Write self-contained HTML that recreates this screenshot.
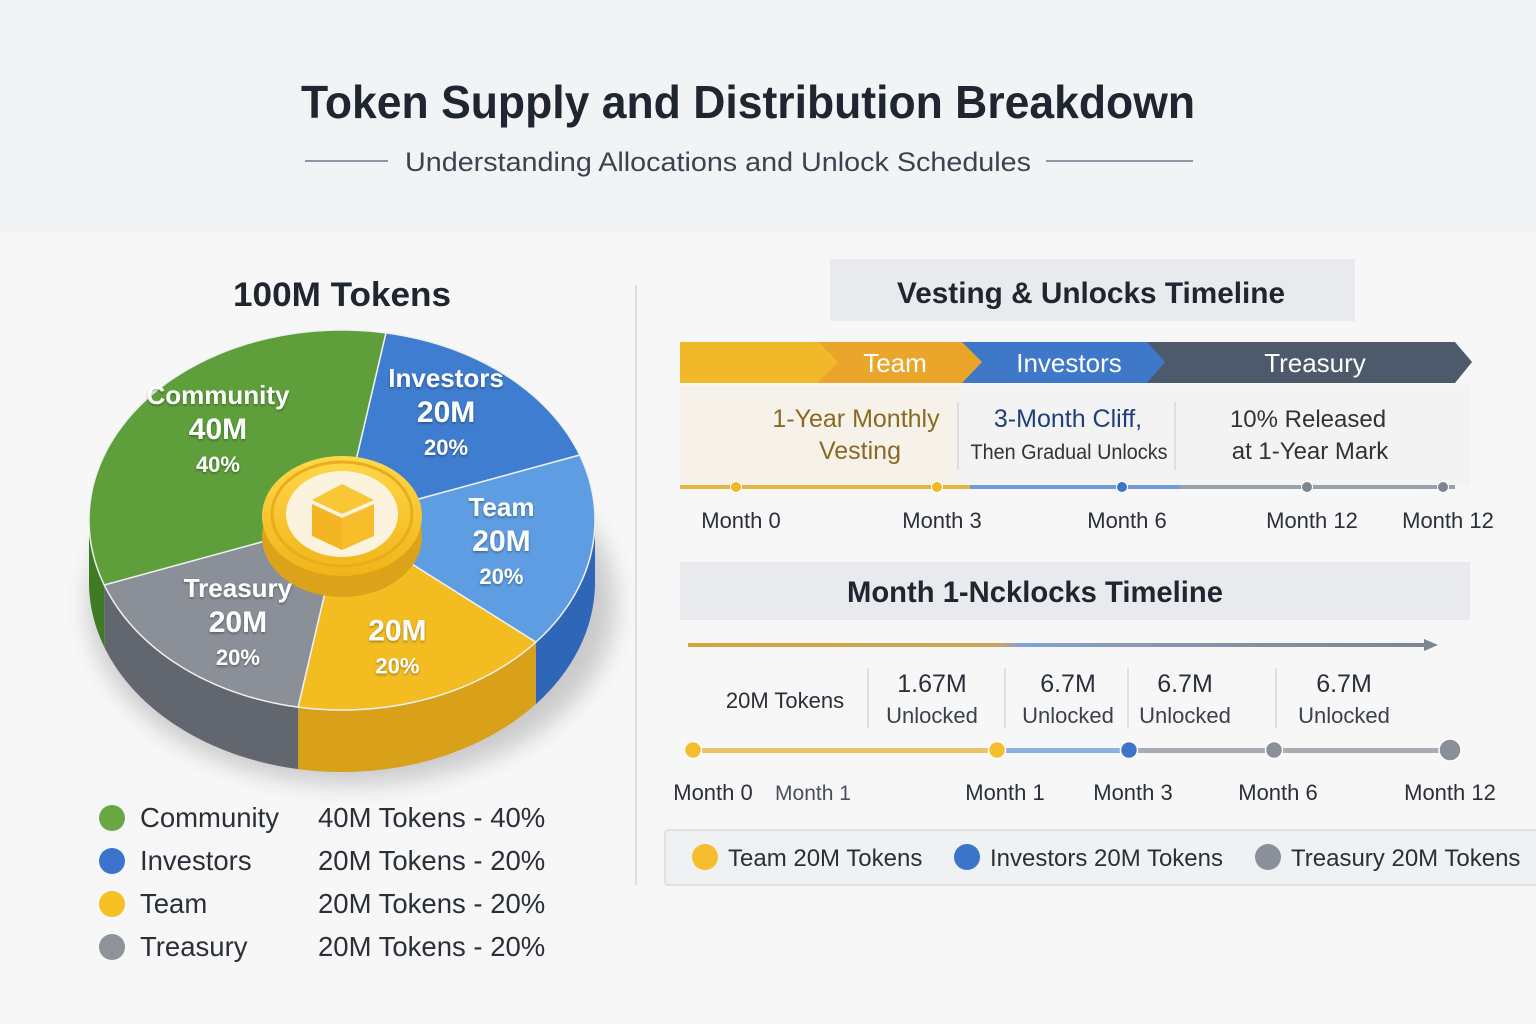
<!DOCTYPE html>
<html><head><meta charset="utf-8"><style>
html,body{margin:0;padding:0;background:#f2f3f5;}
svg{display:block;font-family:"Liberation Sans",sans-serif;}
</style></head><body>
<svg id="chart" width="1536" height="1024" viewBox="0 0 1536 1024">
<defs>
<linearGradient id="bandGrad" x1="0" x2="1"><stop offset="0" stop-color="#d5a43a"/><stop offset="0.42" stop-color="#c9a65c"/><stop offset="0.45" stop-color="#7fa3d6"/><stop offset="0.6" stop-color="#8a99ae"/><stop offset="1" stop-color="#7d8592"/></linearGradient>
<linearGradient id="coinGrad" x1="0" y1="0" x2="0" y2="1"><stop offset="0" stop-color="#ffd84a"/><stop offset="1" stop-color="#f0b418"/></linearGradient>
<filter id="tsh"><feDropShadow dx="0" dy="1.5" stdDeviation="1.2" flood-color="#000" flood-opacity="0.35"/></filter>
<filter id="blur"><feGaussianBlur stdDeviation="12"/></filter>
</defs>
<rect width="1536" height="1024" fill="#f2f3f5"/>
<rect x="0" y="232" width="1536" height="792" fill="#f7f7f8"/>

<text x="748" y="118" text-anchor="middle" font-size="46" font-weight="bold" fill="#1f2630" textLength="894" lengthAdjust="spacingAndGlyphs">Token Supply and Distribution Breakdown</text>
<line x1="305" y1="161" x2="388" y2="161" stroke="#8d96a3" stroke-width="2"/>
<line x1="1046" y1="161" x2="1193" y2="161" stroke="#8d96a3" stroke-width="2"/>
<text x="718" y="171" text-anchor="middle" font-size="27" fill="#3a4350" textLength="626" lengthAdjust="spacingAndGlyphs">Understanding Allocations and Unlock Schedules</text>

<text x="342" y="306" text-anchor="middle" font-size="34" font-weight="bold" fill="#1f2630" textLength="218" lengthAdjust="spacingAndGlyphs">100M Tokens</text>

<g id="pie"></g>
<g id="legendL"></g>

<line x1="636" y1="285" x2="636" y2="885" stroke="#dcdfe3" stroke-width="2"/>

<rect x="830" y="259" width="525" height="62" fill="#e8eaee"/>
<text x="1091" y="303" text-anchor="middle" font-size="30" font-weight="bold" fill="#1f2630" textLength="388" lengthAdjust="spacingAndGlyphs">Vesting &amp; Unlocks Timeline</text>
<g>
<polygon points="680,342 822,342 840,362 822,383 680,383" fill="#f1b92a"/>
<polygon points="818,342 965,342 985,362 965,383 818,383 838,362" fill="#eaa62a"/>
<polygon points="962,342 1150,342 1168,362 1150,383 962,383 982,362" fill="#3f78c9"/>
<polygon points="1147,342 1455,342 1472,362 1455,383 1147,383 1165,362" fill="#4c5a6c"/>
<text x="895" y="372" text-anchor="middle" font-size="26" fill="#fff">Team</text>
<text x="1069" y="372" text-anchor="middle" font-size="26" fill="#fff">Investors</text>
<text x="1315" y="372" text-anchor="middle" font-size="26" fill="#fff">Treasury</text>
</g>
<rect x="680" y="385" width="790" height="100" fill="#f3f3f3"/>
<rect x="680" y="385" width="278" height="100" fill="#f6f2ea"/>
<line x1="958" y1="402" x2="958" y2="470" stroke="#d6d8dc" stroke-width="1.5"/>
<line x1="1175" y1="402" x2="1175" y2="470" stroke="#d6d8dc" stroke-width="1.5"/>
<text x="856" y="427" text-anchor="middle" font-size="25" fill="#8a6a22">1-Year Monthly</text>
<text x="860" y="459" text-anchor="middle" font-size="25" fill="#8a6a22">Vesting</text>
<text x="1068" y="427" text-anchor="middle" font-size="25" fill="#1e3f7a">3-Month Cliff,</text>
<text x="1069" y="459" text-anchor="middle" font-size="21" fill="#333" textLength="197" lengthAdjust="spacingAndGlyphs">Then Gradual Unlocks</text>
<text x="1308" y="427" text-anchor="middle" font-size="24" fill="#333">10% Released</text>
<text x="1310" y="459" text-anchor="middle" font-size="24" fill="#333">at 1-Year Mark</text>
<g id="tl1"></g>

<rect x="680" y="562" width="790" height="58" fill="#e8eaee"/>
<text x="1035" y="602" text-anchor="middle" font-size="30" font-weight="bold" fill="#1f2630" textLength="376" lengthAdjust="spacingAndGlyphs">Month 1-Ncklocks Timeline</text>
<rect x="688" y="643" width="740" height="4" fill="url(#bandGrad)"/>
<polygon points="1424,639 1438,645 1424,651" fill="#7d8592"/>
<g id="unl"></g>
<g id="tl2"></g>

<rect x="665" y="830" width="880" height="55" fill="#f0f1f3" stroke="#d8dbe0" stroke-width="1.5" rx="3"/>
<g id="legendR"></g>
</svg>
<script>
const NS="http://www.w3.org/2000/svg";
const pieNames=["Investors","Team","","Treasury","Community"];
const pieValues=[20,20,20,20,40];
const piePercents=["20%","20%","20%","20%","40%"];
const pieAmounts=["20M","20M","20M","20M","40M"];
const pieTop=["#3f7dd0","#5f9de2","#f3bd22","#8b9098","#5e9f3c"];
const pieSide=["#2456a8","#2f66b8","#d9a01a","#62676f","#3f7a25"];
const legNames=["Community","Investors","Team","Treasury"];
const legValues=["40M Tokens - 40%","20M Tokens - 20%","20M Tokens - 20%","20M Tokens - 20%"];
const legColors=["#6aa843","#3c74cc","#f6c022","#8e9299"];
const tl1Labels=["Month 0","Month 3","Month 6","Month 12","Month 12"];
const tl1Months=[0,3,6,12,15];
const tl1Colors=["#f0b72b","#f0b72b","#3b74c8","#7d8590","#7d8590"];
const tl2Labels=["Month 0","Month 1","Month 3","Month 6","Month 12"];
const tl2Months=[0,1,3,6,12];
const tl2Colors=["#f4be2e","#f4be2e","#3b74c8","#8b9098","#8b9098"];
const unlockValues=["1.67M","6.7M","6.7M","6.7M"];
const legR=["Team 20M Tokens","Investors 20M Tokens","Treasury 20M Tokens"];
const legRColors=["#f4be2e","#3b74c8","#8b9098"];

function el(tag,attrs,parent,txt){const e=document.createElementNS(NS,tag);for(const k in attrs)e.setAttribute(k,attrs[k]);if(txt!==undefined)e.textContent=txt;parent.appendChild(e);return e;}
function piece(dom,rng){return v=>{for(let i=0;i<dom.length-1;i++){if(v<=dom[i+1]||i===dom.length-2){return rng[i]+(v-dom[i])/(dom[i+1]-dom[i])*(rng[i+1]-rng[i]);}}};}

const pie=document.getElementById('pie');
const cx=342,cy=520,rx=253,ry=190,H=62,startAngle=80;
const P=(a,dy=0)=>[cx+rx*Math.cos(a*Math.PI/180),cy-ry*Math.sin(a*Math.PI/180)+dy];
const total=pieValues.reduce((a,b)=>a+b,0);
let sh=el('ellipse',{cx:cx+10,cy:cy+H+22,rx:rx+10,ry:ry-10,fill:'#000',opacity:0.18,filter:'url(#blur)'},pie);

let angles=[];let a=startAngle;
pieValues.forEach(v=>{const a2=a-v/total*360;angles.push([a,a2]);a=a2;});
angles.forEach(([a1,a2],i)=>{
  let s=Math.min(a1,0),e=Math.max(a2,-180);
  if(s<=e)return;
  let pts=[];for(let t=s;t>=e;t-=1)pts.push(P(t));pts.push(P(e));
  let back=[];for(let t=e;t<=s;t+=1)back.push(P(t,H));back.push(P(s,H));
  const p=el('polygon',{points:pts.concat(back).map(q=>q.join(',')).join(' '),fill:pieSide[i]},pie);
  
});
angles.forEach(([a1,a2],i)=>{
  let pts=[[cx,cy]];for(let t=a1;t>=a2;t-=1)pts.push(P(t));pts.push(P(a2));
  const p=el('polygon',{points:pts.map(q=>q.join(',')).join(' '),fill:pieTop[i],stroke:'#eef0f2','stroke-width':1.5},pie);
  
});
[['ellipse',{cx:342,cy:537,rx:80,ry:60,fill:'#dca21a'}],['ellipse',{cx:342,cy:516,rx:80,ry:60,fill:'url(#coinGrad)'}],['ellipse',{cx:342,cy:514,rx:70,ry:52,fill:'none',stroke:'#e9ac1c','stroke-width':3}],['ellipse',{cx:342,cy:514,rx:56,ry:43,fill:'#fbf3de'}]].forEach(([t,at],k)=>{const e=el(t,at,pie);});
[['polygon',{points:'312,500 342,484 374,500 342,514',fill:'#f9c735'}],['polygon',{points:'312,504 342,518 342,550 312,536',fill:'#f3b524'}],['polygon',{points:'342,518 374,504 374,536 342,550',fill:'#f7bd2a'}]].forEach(([t,at],k)=>{const e=el(t,at,pie);});
angles.forEach(([a1,a2],i)=>{
  const m=(a1+a2)/2;const [x,y]=P(m);const lx=cx+(x-cx)*0.64,ly=cy+(y-cy)*0.72;
  const g=el('g',{filter:'url(#tsh)','font-weight':'bold',fill:'#fff','text-anchor':'middle'},pie);
  
  let yy=pieNames[i]?ly-28:ly-8;
  if(pieNames[i]){const t=el('text',{x:lx,y:yy,'font-size':26},g,pieNames[i]);yy+=35;}
  const t2=el('text',{x:lx,y:yy,'font-size':30},g,pieAmounts[i]);
  const t3=el('text',{x:lx,y:yy+33,'font-size':22},g,piePercents[i]);
});
const lg=document.getElementById('legendL');
legNames.forEach((n,i)=>{const y=818+i*43;
  const c=el('circle',{cx:112,cy:y,r:13,fill:legColors[i]},lg);
  const t=el('text',{x:140,y:y+9,'font-size':27.5,fill:'#2a2f38'},lg,n);
  const v=el('text',{x:318,y:y+9,'font-size':27.5,fill:'#2a2f38'},lg,legValues[i]);
});
const t1=document.getElementById('tl1');
const x1=piece([0,3,6,12,15],[736,937,1122,1307,1443]);
[[680,970,'#e6b445'],[970,1180,'#6f9bd6'],[1180,1455,'#9aa0a8']].forEach((s,k)=>{const r=el('rect',{x:s[0],y:485,width:s[1]-s[0],height:4,fill:s[2]},t1);});
tl1Months.forEach((m,i)=>{const x=x1(m);
  const c=el('circle',{cx:x,cy:487,r:5.5,fill:tl1Colors[i],stroke:'#fff','stroke-width':1},t1);
  const t=el('text',{x:x+5,y:528,'font-size':22,fill:'#2a2f38','text-anchor':'middle'},t1,tl1Labels[i]);
});
const un=document.getElementById('unl');
const t0=el('text',{x:785,y:708,'font-size':22,fill:'#2a2f38','text-anchor':'middle'},un,'20M Tokens');
const ucx=[932,1068,1185,1344],usep=[868,1005,1128,1276];
unlockValues.forEach((v,i)=>{
  const l=el('line',{x1:usep[i],y1:668,x2:usep[i],y2:728,stroke:'#d6d8dc','stroke-width':1.5},un);
  const a=el('text',{x:ucx[i],y:692,'font-size':25,fill:'#2a2f38','text-anchor':'middle'},un,v);
  const b=el('text',{x:ucx[i],y:723,'font-size':22,fill:'#3a414b','text-anchor':'middle'},un,'Unlocked');
});
const t2=document.getElementById('tl2');
const x2=piece([0,1,3,6,12],[693,997,1129,1274,1450]);
[[693,990,'#e9c26a'],[1005,1120,'#8fb0df'],[1135,1445,'#a9adb3']].forEach((s,k)=>{const r=el('rect',{x:s[0],y:748,width:s[1]-s[0],height:5,fill:s[2]},t2);});
tl2Months.forEach((m,i)=>{const x=x2(m);
  const c=el('circle',{cx:x,cy:750,r:i===4?11:8.5,fill:tl2Colors[i],stroke:'#fff','stroke-width':1.5},t2);
  const t=el('text',{x:i===0?713:(i===1?1005:(i===4?1450:x+4)),y:800,'font-size':22,fill:'#2a2f38','text-anchor':'middle'},t2,tl2Labels[i]);
});
const ex=el('text',{x:813,y:800,'font-size':21,fill:'#4a505a','text-anchor':'middle'},t2,'Month 1');
const lr=document.getElementById('legendR');const lrx=[705,967,1268];
legR.forEach((n,i)=>{
  const c=el('circle',{cx:lrx[i],cy:857,r:13,fill:legRColors[i]},lr);
  const t=el('text',{x:lrx[i]+23,y:866,'font-size':24,fill:'#2a2f38'},lr,n);
});
</script>
</body></html>
